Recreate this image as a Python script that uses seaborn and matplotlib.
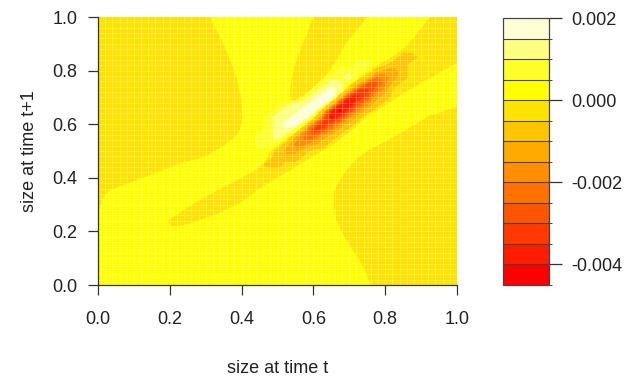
import numpy as np
import matplotlib
matplotlib.use("Agg")
import matplotlib.pyplot as plt
from matplotlib.colors import ListedColormap, BoundaryNorm
from matplotlib.cm import ScalarMappable
import seaborn as sns

# contour bands (13 bands of 0.0005 from -0.0045 to 0.002)
level_lo = -0.0045
level_step = 0.0005
n_bands = 13

# band colours, most negative first (R heat.colors(13))
band_colors = ["#FF0000", "#FF1C00", "#FF3900", "#FF5500", "#FF7100",
               "#FF8E00", "#FFAA00", "#FFC600", "#FFE300", "#FFFF00",
               "#FFFF2A", "#FFFF80", "#FFFFD5"]

cbar_ticks = [-0.004, -0.002, 0.0, 0.002]
cbar_labels = ["-0.004", "-0.002", "0.000", "0.002"]
axis_ticks = [0.0, 0.2, 0.4, 0.6, 0.8, 1.0]

# flat areas of the surface: outlines of the slightly negative (gold,
# -0.0005..0) regions; everything else is 0..0.0005
upper_left_x = [0, 0.312, 0.33, 0.349, 0.368, 0.386, 0.40, 0.402, 0.395,
                0.382, 0.36, 0.345, 0.30, 0.24, 0.13, 0.03, 0.012, 0.003, 0]
upper_left_y = [1, 1, 0.95, 0.90, 0.84, 0.777, 0.69, 0.62, 0.575,
                0.553, 0.53, 0.516, 0.48, 0.458, 0.403, 0.352, 0.32, 0.28, 0.27]

top_finger_x = [0.60, 0.75, 0.735, 0.72, 0.705, 0.69, 0.67, 0.645, 0.62,
                0.59, 0.565, 0.55, 0.54, 0.535, 0.536, 0.54, 0.545, 0.55,
                0.556, 0.563, 0.57, 0.578, 0.585, 0.592]
top_finger_y = [1, 1, 0.975, 0.95, 0.925, 0.90, 0.85, 0.80, 0.76,
                0.725, 0.70, 0.688, 0.69, 0.71, 0.74, 0.775, 0.80, 0.825,
                0.85, 0.875, 0.90, 0.925, 0.95, 0.975]

diag_band_x = [0.195, 0.21, 0.25, 0.30, 0.35, 0.40, 0.45, 0.50, 0.55, 0.60,
               0.65, 0.70, 0.75, 0.80, 0.85, 0.90, 0.95, 1.0, 1.0, 0.925,
               0.895, 0.865, 0.83, 0.79, 0.756, 0.704, 0.662, 0.618, 0.585,
               0.53, 0.48, 0.465, 0.44, 0.40, 0.35, 0.30, 0.25, 0.20]
diag_band_y = [0.232, 0.217, 0.228, 0.25, 0.275, 0.31, 0.36, 0.40, 0.44, 0.48,
               0.52, 0.57, 0.63, 0.67, 0.715, 0.755, 0.79, 0.83, 1.0, 1.0,
               0.95, 0.90, 0.86, 0.83, 0.80, 0.75, 0.70, 0.65, 0.60,
               0.55, 0.50, 0.46, 0.43, 0.40, 0.365, 0.33, 0.29, 0.245]

lower_right_x = [0.76, 1.0, 1.0, 0.965, 0.92, 0.885, 0.852, 0.82, 0.785,
                 0.75, 0.725, 0.705, 0.69, 0.678, 0.666, 0.658, 0.656, 0.662,
                 0.67, 0.678, 0.689, 0.70, 0.712, 0.725, 0.735, 0.745, 0.752]
lower_right_y = [0.0, 0.0, 0.665, 0.65, 0.63, 0.60, 0.575, 0.55, 0.525,
                 0.50, 0.475, 0.45, 0.425, 0.40, 0.375, 0.35, 0.30, 0.25,
                 0.225, 0.20, 0.175, 0.15, 0.125, 0.10, 0.075, 0.05, 0.025]

# the ridge, read on a 41 x 41 grid (step 0.025 in both sizes), one char per
# node = band index (0 deepest red ... 8 gold, 9 yellow, c palest)
# first string = top row (size at t+1 = 1.0), first char = size at t 0.0
surface_rows = [
    "88888888888889999999999988888889999998888",
    "88888888888889999999999988888899999998888",
    "88888888888888999999999988888999999988888",
    "88888888888888999999999988888999999988888",
    "88888888888888899999999888889999999888888",
    "88888888888888899999999888899999998888888",
    "88888888888888899999999888899999987788888",
    "88888888888888889999998888999aa9877888889",
    "888888888888888899999988899aaa97667888899",
    "88888888888888889999998889aab974567888999",
    "8888888888888888999999889abb9633578899999",
    "888888888888888899999988abcb6224688999999",
    "88888888888888888999998abcc61136789999999",
    "888888888888888889999abbcc710357899999999",
    "88888888888888888999abbcc7102578999999988",
    "8888888888888888899abbcc94025799999999888",
    "8888888888888888899abcc941357899999988888",
    "8888888888888888999abb9523578999999888888",
    "888888888888888899aab96446789999988888888",
    "888888888888888999aa975567899999888888888",
    "88888888888888999999766788999998888888888",
    "88888888888899999998777899999988888888888",
    "88888888889999999987788999999888888888888",
    "88888888999999999988889999998888888888888",
    "88888899999999998888899999998888888888888",
    "88889999999999988889999999988888888888888",
    "88999999999999888899999999988888888888888",
    "89999999999988888999999999988888888888888",
    "89999999999888889999999999988888888888888",
    "89999999998888999999999999988888888888888",
    "99999999988899999999999999988888888888888",
    "99999999889999999999999999988888888888888",
    "99999999999999999999999999998888888888888",
    "99999999999999999999999999998888888888888",
    "99999999999999999999999999999888888888888",
    "99999999999999999999999999999888888888888",
    "99999999999999999999999999999988888888888",
    "99999999999999999999999999999988888888888",
    "99999999999999999999999999999988888888888",
    "99999999999999999999999999999998888888888",
    "99999999999999999999999999999998888888888",
]

sns.set_style("ticks")
plt.rcParams["font.family"] = ["Liberation Sans", "DejaVu Sans"]

sizes = np.linspace(0, 1, len(surface_rows))
band_index = np.array([[int(c, 16) for c in row] for row in surface_rows[::-1]])
surface = level_lo + level_step * (band_index + 0.5)
levels = level_lo + level_step * np.arange(n_bands + 1)

gold = band_colors[8]
yellow = band_colors[9]
# flat bands are drawn as areas below, so leave them open in the contour
ridge_colors = band_colors[:8] + ["none", "none"] + band_colors[10:]

W, H = 627, 377
fig = plt.figure(figsize=(W / 100, H / 100), dpi=100)
ax = fig.add_axes([98 / W, 92 / H, 359 / W, 268 / H])
cax = fig.add_axes([503 / W, 92 / H, 46 / W, 267 / H])

ax.set_facecolor(yellow)
for xs, ys in [(upper_left_x, upper_left_y), (top_finger_x, top_finger_y),
               (diag_band_x, diag_band_y), (lower_right_x, lower_right_y)]:
    ax.fill(xs, ys, color=gold, lw=0, zorder=1)

ax.contourf(sizes, sizes, surface, levels=levels, colors=ridge_colors, zorder=1.5)

# faint seams of the original 50 x 50 cell rendering
for s in np.linspace(0, 1, 51)[1:-1]:
    ax.axvline(s, color="white", lw=0.6, alpha=0.3, zorder=2)
    ax.axhline(s, color="white", lw=0.6, alpha=0.3, zorder=2)

ax.set_xlim(0, 1)
ax.set_ylim(0, 1)
sns.despine(ax=ax)
for side in ["left", "bottom"]:
    ax.spines[side].set_color("#333333")
    ax.spines[side].set_linewidth(0.9)
ax.set_xticks(axis_ticks)
ax.set_yticks(axis_ticks)
ax.set_xticklabels([f"{t:.1f}" for t in axis_ticks])
ax.set_yticklabels([f"{t:.1f}" for t in axis_ticks])
ax.tick_params(length=7, width=0.9, color="#333333", labelsize=13,
               labelcolor="#222222")
ax.tick_params(axis="x", pad=12)
ax.tick_params(axis="y", pad=8)
ax.set_xlabel("size at time t", fontsize=13, color="#222222", labelpad=23)
ax.set_ylabel("size at time t+1", fontsize=13, color="#222222", labelpad=10)

band_map = ScalarMappable(norm=BoundaryNorm(levels, n_bands),
                          cmap=ListedColormap(band_colors))
cb = fig.colorbar(band_map, cax=cax, drawedges=True)
cb.set_ticks(cbar_ticks)
cb.set_ticklabels(cbar_labels)
cb.outline.set_edgecolor("#444444")
cb.outline.set_linewidth(0.9)
cb.dividers.set_color("#444444")
cb.dividers.set_linewidth(0.8)
cax.tick_params(length=9, width=0.9, color="#333333", pad=7, labelsize=13,
                labelcolor="#222222")

fig.savefig("out.png", dpi=100, facecolor="white")
